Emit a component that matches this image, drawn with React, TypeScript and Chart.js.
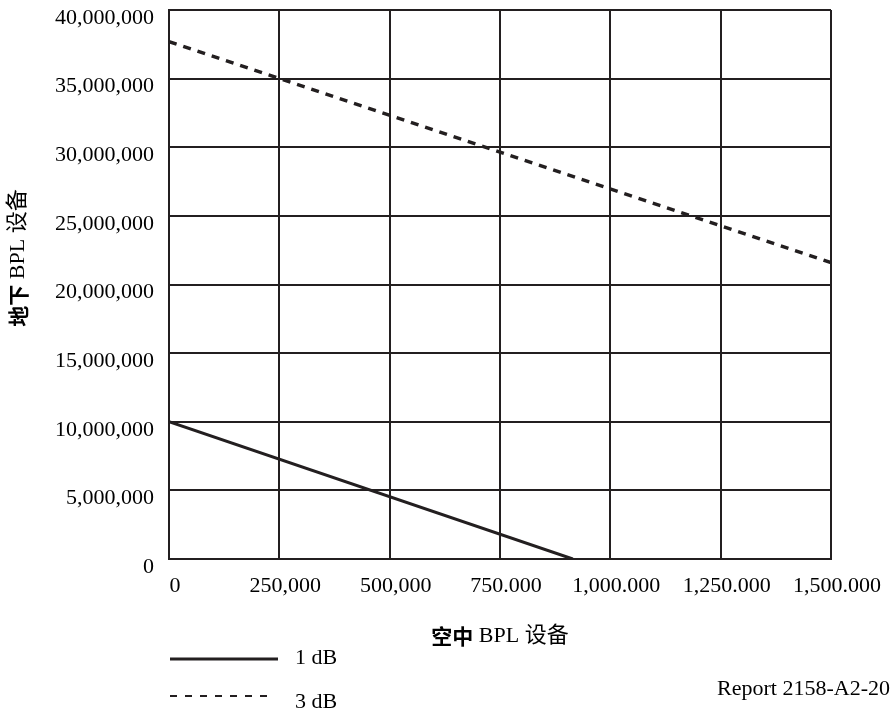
import React, { useEffect, useRef } from "react";
import { Chart, registerables } from "chart.js";

Chart.register(...registerables);

// ---- data ----
const xTickValues = [0, 250000, 500000, 750000, 1000000, 1250000, 1500000];
const xTickLabels = ["0", "250,000", "500,000", "750.000", "1,000.000", "1,250.000", "1,500.000"];
const yTickValues = [0, 5000000, 10000000, 15000000, 20000000, 25000000, 30000000, 35000000, 40000000];
const yTickLabels = [
  "0",
  "5,000,000",
  "10,000,000",
  "15,000,000",
  "20,000,000",
  "25,000,000",
  "30,000,000",
  "35,000,000",
  "40,000,000",
];
const series1dBX = [0, 915000];
const series1dBY = [10000000, 0];
const series3dBX = [0, 1500000];
const series3dBY = [37700000, 21600000];
const seriesNames = ["1 dB", "3 dB"];
const xTitleParts = ["空中", " BPL 设备"];
const yTitleParts = ["地下", " BPL 设备"];
const noteText = "Report 2158-A2-20";

const INK = "#231f20";
const SERIF = "'Liberation Serif', 'Times New Roman', 'Noto Sans CJK SC', serif";
const CJK_BOLD = "bold 21px 'Noto Sans CJK SC', sans-serif";
const TEXT_FONT = `22px ${SERIF}`;

function drawParts(ctx: CanvasRenderingContext2D, parts: string[], cx: number, cy: number) {
  const fonts = [CJK_BOLD, TEXT_FONT];
  const widths = parts.map((t, i) => {
    ctx.font = fonts[i % 2];
    return ctx.measureText(t).width;
  });
  const total = widths.reduce((a, b) => a + b, 0);
  let x = cx - total / 2;
  ctx.textAlign = "left";
  ctx.textBaseline = "middle";
  parts.forEach((t, i) => {
    ctx.font = fonts[i % 2];
    ctx.fillText(t, x, cy);
    x += widths[i];
  });
}

const extrasPlugin = {
  id: "extras",
  afterDraw(chart: any) {
    const ctx: CanvasRenderingContext2D = chart.ctx;
    const area = chart.chartArea;
    ctx.save();
    ctx.fillStyle = "#000";
    // x title
    drawParts(ctx, xTitleParts, (area.left + area.right) / 2, 636);
    // y title
    ctx.save();
    ctx.translate(18, 258);
    ctx.rotate(-Math.PI / 2);
    drawParts(ctx, yTitleParts, 0, 0);
    ctx.restore();

    // legend
    ctx.strokeStyle = INK;
    ctx.lineWidth = 3;
    ctx.setLineDash([]);
    ctx.beginPath();
    ctx.moveTo(170, 659);
    ctx.lineTo(278, 659);
    ctx.stroke();
    ctx.lineWidth = 2;
    ctx.setLineDash([7, 8]);
    ctx.beginPath();
    ctx.moveTo(170, 696);
    ctx.lineTo(270, 696);
    ctx.stroke();
    ctx.setLineDash([]);
    ctx.font = TEXT_FONT;
    ctx.textAlign = "left";
    ctx.textBaseline = "middle";
    ctx.fillText(seriesNames[0], 295, 658);
    ctx.fillText(seriesNames[1], 295, 702);

    // note
    ctx.textAlign = "right";
    ctx.fillText(noteText, 890, 689);
    ctx.restore();
  },
};

export default function App() {
  const canvasRef = useRef<HTMLCanvasElement | null>(null);

  useEffect(() => {
    document.body.style.margin = "0";
    const canvas = canvasRef.current;
    if (!canvas) return;
    const chart = new Chart(canvas, {
      type: "line",
      data: {
        datasets: [
          {
            label: seriesNames[0],
            data: series1dBX.map((x, i) => ({ x, y: series1dBY[i] })),
            borderColor: INK,
            borderWidth: 3,
            pointRadius: 0,
            fill: false,
          },
          {
            label: seriesNames[1],
            data: series3dBX.map((x, i) => ({ x, y: series3dBY[i] })),
            borderColor: INK,
            borderWidth: 3.5,
            borderDash: [8, 7],
            pointRadius: 0,
            fill: false,
          },
        ],
      },
      options: {
        animation: false,
        responsive: true,
        maintainAspectRatio: false,
        layout: { padding: { left: 0, right: 60, top: 10, bottom: 0 } },
        plugins: {
          legend: { display: false },
          tooltip: { enabled: false },
          title: { display: false },
        },
        scales: {
          x: {
            type: "linear",
            min: 0,
            max: 1500000,
            afterBuildTicks: (scale: any) => {
              scale.ticks = xTickValues.map((v) => ({ value: v }));
            },
            afterFit: (scale: any) => {
              scale.height = 152;
              scale.paddingLeft = 0;
              scale.paddingRight = 0;
            },
            ticks: {
              autoSkip: false,
              maxRotation: 0,
              padding: 14,
              labelOffset: 6,
              color: "#000",
              font: { family: SERIF, size: 22 },
              callback: (_v: any, i: number) => xTickLabels[i],
            },
            grid: { color: INK, lineWidth: 2, drawTicks: false },
            border: { display: true, color: INK, width: 2 },
          },
          y: {
            type: "linear",
            min: 0,
            max: 40000000,
            afterBuildTicks: (scale: any) => {
              scale.ticks = yTickValues.map((v) => ({ value: v }));
            },
            afterFit: (scale: any) => {
              scale.width = 169;
              scale.paddingTop = 0;
              scale.paddingBottom = 0;
            },
            ticks: {
              autoSkip: false,
              padding: 15,
              labelOffset: 8,
              color: "#000",
              font: { family: SERIF, size: 22 },
              callback: (_v: any, i: number) => yTickLabels[i],
            },
            grid: { color: INK, lineWidth: 2, drawTicks: false },
            border: { display: true, color: INK, width: 2 },
          },
        },
      },
      plugins: [extrasPlugin],
    });
    return () => chart.destroy();
  }, []);

  return (
    <div style={{ position: "relative", width: 891, height: 711 }}>
      <canvas ref={canvasRef} />
    </div>
  );
}
